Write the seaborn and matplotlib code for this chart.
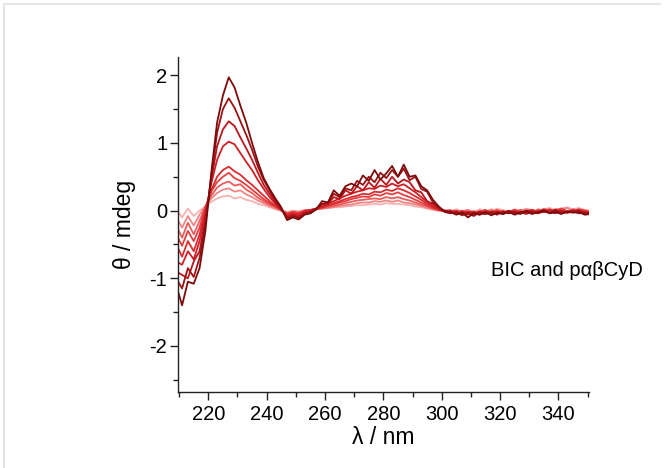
import matplotlib
matplotlib.use("Agg")
import matplotlib.pyplot as plt
import seaborn as sns
import pandas as pd
from matplotlib.lines import Line2D
from matplotlib.ticker import MultipleLocator

wavelength = [209, 211, 213, 215, 217, 219, 221, 223, 225, 227, 229, 231, 233, 235, 237, 239,
              241, 243, 245, 247, 249, 251, 253, 255, 257, 259, 261, 263, 265, 267, 269, 271,
              273, 275, 277, 279, 281, 283, 285, 287, 289, 291, 293, 295, 297, 299, 301, 303,
              305, 307, 309, 311, 313, 315, 317, 319, 321, 323, 325, 327, 329, 331, 333, 335,
              337, 339, 341, 343, 345, 347, 349, 351]

s1 = [-1.1, -1.4, -1.05, -1.08, -0.85, -0.3, 0.55, 1.3, 1.7, 1.97, 1.82, 1.55, 1.3, 1.0, 0.72, 0.48,
      0.32, 0.18, 0.05, -0.14, -0.1, -0.13, -0.06, -0.04, 0.02,
      0.14, 0.12, 0.3, 0.22, 0.36, 0.4, 0.36, 0.52, 0.44, 0.6, 0.46, 0.55, 0.66, 0.5, 0.68, 0.5,
      0.52, 0.36, 0.3, 0.16, 0.06, -0.01,
      -0.02, -0.06, -0.03, -0.1, -0.04, -0.06, -0.02, -0.07, -0.03, -0.05, -0.02, -0.06, -0.03, -0.01,
      -0.05, -0.02, 0.0, -0.04, -0.02, -0.05, -0.01, -0.03, -0.02, -0.06, -0.05]
s2 = [-1.0, -1.15, -0.85, -0.98, -0.7, -0.2, 0.5, 1.15, 1.5, 1.66, 1.52, 1.32, 1.12, 0.9, 0.65, 0.45,
      0.3, 0.15, 0.03, -0.12, -0.08, -0.11, -0.05, -0.03, 0.03,
      0.1, 0.12, 0.25, 0.2, 0.33, 0.3, 0.44, 0.38, 0.5, 0.42, 0.56, 0.48, 0.6, 0.5, 0.62, 0.45,
      0.5, 0.32, 0.28, 0.12, 0.05, -0.02,
      -0.04, -0.02, -0.07, -0.03, -0.08, -0.02, -0.05, -0.03, -0.06, -0.01, -0.04, -0.02, -0.05, 0.0,
      -0.03, -0.04, -0.01, -0.03, 0.01, -0.04, -0.02, -0.01, -0.04, -0.03, -0.05]
s3 = [-0.9, -0.95, -1.0, -0.75, -0.6, -0.12, 0.45, 0.95, 1.2, 1.32, 1.25, 1.08, 0.92, 0.75, 0.56, 0.38,
      0.25, 0.12, 0.02, -0.1, -0.06, -0.09, -0.03, -0.01, 0.03,
      0.09, 0.1, 0.2, 0.17, 0.3, 0.25, 0.36, 0.3, 0.42, 0.34, 0.47, 0.38, 0.5, 0.4, 0.46, 0.42,
      0.3, 0.27, 0.14, 0.1, 0.04, -0.01,
      -0.01, -0.05, -0.02, -0.06, -0.02, -0.04, -0.05, -0.01, -0.04, -0.03, 0.0, -0.04, -0.02, -0.05,
      -0.01, -0.03, 0.01, -0.02, -0.04, 0.0, -0.03, -0.02, 0.01, -0.03, -0.04]
s4 = [-0.75, -0.8, -0.6, -0.72, -0.45, -0.05, 0.4, 0.75, 0.95, 1.02, 0.98, 0.85, 0.72, 0.6, 0.45, 0.32,
      0.2, 0.1, 0.02, -0.08, -0.05, -0.07, -0.02, 0.0, 0.03, 0.06, 0.1, 0.14, 0.18, 0.22, 0.25, 0.28,
      0.3, 0.33, 0.32, 0.37, 0.35, 0.4, 0.36, 0.39, 0.33, 0.27, 0.2, 0.13, 0.07, 0.02, -0.01,
      -0.03, -0.01, -0.05, -0.02, -0.03, -0.06, -0.01, -0.03, -0.02, -0.05, -0.01, -0.02, -0.04, -0.01,
      0.01, -0.03, -0.02, 0.02, -0.02, -0.01, -0.03, 0.0, -0.02, -0.04, -0.03]
s5 = [-0.5, -0.68, -0.45, -0.6, -0.35, 0.0, 0.3, 0.5, 0.6, 0.65, 0.58, 0.53, 0.45, 0.38, 0.3, 0.22,
      0.14, 0.07, 0.01, -0.06, -0.03, -0.05, -0.01, 0.01, 0.03, 0.05, 0.08, 0.11, 0.14, 0.17, 0.2, 0.22,
      0.25, 0.24, 0.28, 0.27, 0.31, 0.29, 0.33, 0.3, 0.26, 0.21, 0.16, 0.1, 0.05, 0.01, -0.01,
      0.0, -0.04, -0.01, -0.03, -0.05, -0.01, -0.02, -0.04, 0.0, -0.03, -0.02, 0.01, -0.03, -0.02,
      -0.04, 0.0, -0.01, -0.03, 0.02, -0.01, -0.03, 0.01, -0.02, -0.01, -0.03]
s6 = [-0.35, -0.52, -0.3, -0.45, -0.25, 0.05, 0.28, 0.42, 0.5, 0.56, 0.48, 0.44, 0.38, 0.31, 0.24, 0.17,
      0.11, 0.06, 0.01, -0.05, -0.02, -0.04, 0.0, 0.01, 0.02, 0.04, 0.07, 0.09, 0.12, 0.14, 0.17, 0.19,
      0.21, 0.2, 0.24, 0.22, 0.26, 0.24, 0.27, 0.23, 0.2, 0.16, 0.12, 0.08, 0.04, 0.01, 0.0,
      -0.02, 0.0, -0.03, -0.01, -0.04, -0.02, 0.01, -0.03, -0.01, -0.02, -0.04, 0.0, -0.01, -0.03,
      0.01, -0.02, 0.02, -0.01, -0.02, 0.03, -0.01, -0.02, 0.02, 0.0, -0.02]
s7 = [-0.22, -0.4, -0.18, -0.35, -0.15, 0.06, 0.22, 0.34, 0.4, 0.43, 0.37, 0.39, 0.31, 0.26, 0.19, 0.14,
      0.09, 0.05, 0.01, -0.04, -0.02, -0.03, 0.0, 0.01, 0.02, 0.04, 0.05, 0.07, 0.09, 0.11, 0.13, 0.15,
      0.16, 0.17, 0.18, 0.17, 0.2, 0.18, 0.2, 0.17, 0.15, 0.12, 0.09, 0.06, 0.03, 0.01, 0.0,
      -0.01, -0.03, 0.0, -0.02, -0.01, -0.04, 0.0, -0.02, 0.01, -0.03, -0.01, -0.02, 0.01, -0.01,
      -0.03, 0.02, 0.0, -0.02, 0.01, 0.03, -0.01, 0.02, 0.0, -0.01, -0.02]
s8 = [-0.1, -0.25, -0.08, -0.22, -0.06, 0.07, 0.18, 0.26, 0.31, 0.33, 0.28, 0.3, 0.24, 0.2, 0.15, 0.11,
      0.07, 0.03, 0.0, -0.03, -0.01, -0.02, 0.0, 0.01, 0.02, 0.03, 0.04, 0.05, 0.07, 0.08, 0.09, 0.11,
      0.12, 0.12, 0.14, 0.13, 0.15, 0.13, 0.15, 0.12, 0.11, 0.09, 0.07, 0.04, 0.02, 0.0, 0.0,
      0.01, -0.02, -0.01, 0.01, -0.03, 0.0, -0.02, 0.02, -0.01, 0.0, -0.03, 0.01, -0.01, 0.02,
      0.0, -0.02, 0.03, 0.01, -0.01, 0.02, 0.04, 0.0, 0.02, 0.01, -0.01]
s9 = [0.02, -0.1, 0.03, -0.08, 0.0, 0.06, 0.13, 0.18, 0.21, 0.22, 0.18, 0.2, 0.16, 0.14, 0.1, 0.08,
      0.05, 0.02, 0.0, -0.02, 0.0, -0.01, 0.01, 0.0, 0.02, 0.03, 0.04, 0.05, 0.05, 0.06, 0.07, 0.08,
      0.08, 0.09, 0.1, 0.09, 0.11, 0.1, 0.1, 0.09, 0.08, 0.06, 0.05, 0.03, 0.01, 0.0, 0.01,
      0.0, 0.02, -0.01, 0.01, -0.02, 0.02, 0.0, -0.01, 0.03, 0.01, -0.02, 0.02, 0.0, 0.03,
      0.01, -0.01, 0.02, 0.04, 0.01, 0.03, 0.05, 0.02, 0.04, 0.01, 0.0]

series_names = ["s1", "s2", "s3", "s4", "s5", "s6", "s7", "s8", "s9"]
series_values = [s1, s2, s3, s4, s5, s6, s7, s8, s9]
colors = ["#7a0c0c", "#9c1115", "#bb161c", "#cf1f25", "#dc2b2f",
          "#e43e40", "#ea5c5c", "#f08585", "#f5b3b3"]

x_ticks = [220, 240, 260, 280, 300, 320, 340]
y_ticks = [-2, -1, 0, 1, 2]

rows = []
for name, vals in zip(series_names, series_values):
    assert len(vals) == len(wavelength), (name, len(vals))
    for w, v in zip(wavelength, vals):
        rows.append({"wl": w, "cd": v, "series": name})
df = pd.DataFrame(rows)

sns.set_theme(style="ticks")
plt.rcParams["font.family"] = ["Liberation Sans", "DejaVu Sans"]
plt.rcParams["axes.unicode_minus"] = False
plt.rcParams["text.color"] = "black"
plt.rcParams["axes.labelcolor"] = "black"
plt.rcParams["xtick.color"] = "#222222"
plt.rcParams["ytick.color"] = "#222222"
plt.rcParams["xtick.labelcolor"] = "black"
plt.rcParams["ytick.labelcolor"] = "black"

fig = plt.figure(figsize=(6.7, 4.68), dpi=100)
ax = fig.add_axes([0.2652, 0.1624, 0.6139, 0.7158])

palette = dict(zip(series_names, colors))
sns.lineplot(data=df, x="wl", y="cd", hue="series", hue_order=series_names[::-1],
             palette=palette, estimator=None, legend=False, linewidth=1.3, ax=ax)

ax.set_xlim(209.5, 350.5)
ax.set_ylim(-2.68, 2.27)
ax.set_xticks(x_ticks)
ax.set_yticks(y_ticks)
ax.xaxis.set_minor_locator(MultipleLocator(10))
ax.yaxis.set_minor_locator(MultipleLocator(0.5))
ax.tick_params(which="major", direction="out", length=6, width=1.0, labelsize=14.5)
ax.tick_params(which="minor", direction="out", length=3.5, width=1.0)
ax.tick_params(axis="y", which="major", pad=1.5)
ax.tick_params(axis="x", which="major", pad=3.5)
for side in ["top", "right"]:
    ax.spines[side].set_visible(False)
for side in ["left", "bottom"]:
    ax.spines[side].set_linewidth(1.0)
    ax.spines[side].set_color("#222222")

ax.set_xlabel("λ / nm", fontsize=16.5, labelpad=1)
ax.set_ylabel("θ / mdeg", fontsize=16.5, labelpad=10)
ax.text(317, -0.88, "BIC and pαβCyD", fontsize=14.5, va="center", ha="left")

fig.add_artist(Line2D([4 / 670, 660 / 670], [1 - 4 / 468, 1 - 4 / 468],
                      transform=fig.transFigure, color="#e0e0e0", lw=1.2))
fig.add_artist(Line2D([4 / 670, 4 / 670], [1 - 4 / 468, 0],
                      transform=fig.transFigure, color="#e0e0e0", lw=1.2))

fig.savefig("out.png", dpi=100)
